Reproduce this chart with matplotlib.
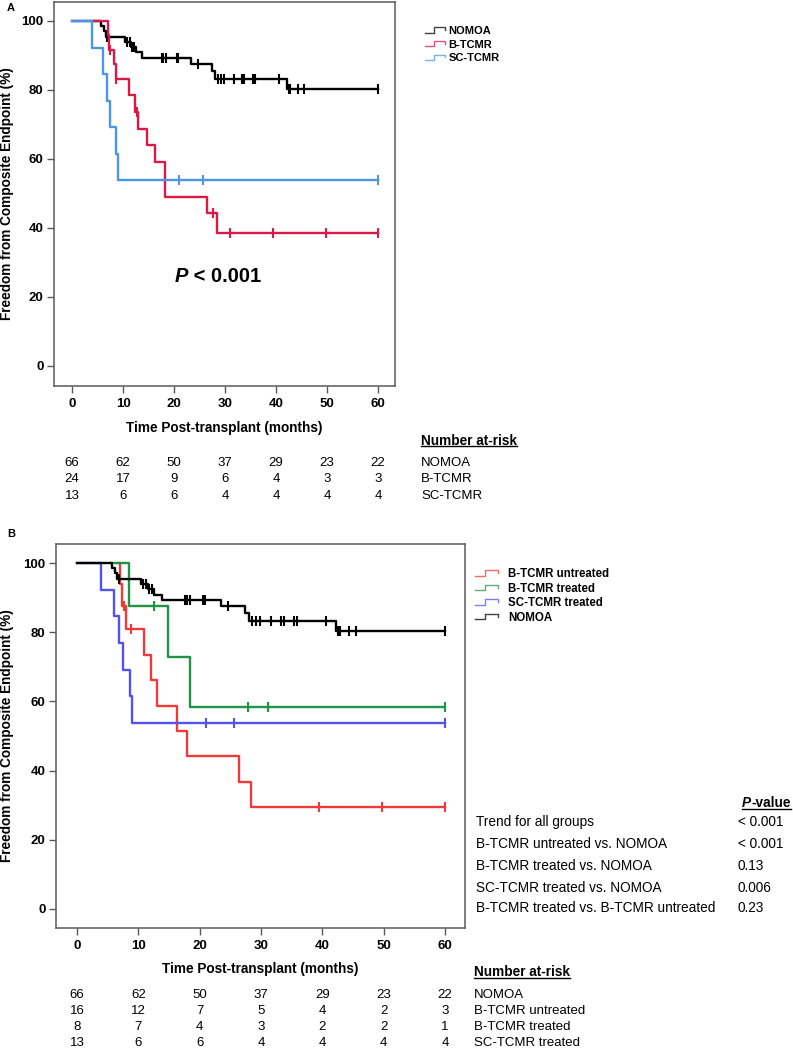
import numpy as np
import matplotlib
matplotlib.use('Agg')
import matplotlib.pyplot as plt
import matplotlib.transforms as mtransforms
from matplotlib.lines import Line2D
from matplotlib.legend_handler import HandlerBase

plt.rcParams['font.family'] = ['Liberation Sans', 'DejaVu Sans']

# ---- data (months, % event-free) ----
nomoa_t = [5.7, 6.2, 6.6, 10.4, 11.6, 12.6, 13.8, 23.4, 27.4, 28.1, 42.2]
nomoa_s = [98.5, 97.0, 95.5, 93.9, 92.4, 90.9, 89.4, 87.5, 85.5, 83.3, 80.3]
nomoa_c = [6.9, 10.8, 11.3, 11.8, 12.2, 17.6, 17.9, 18.5, 20.5, 20.8, 24.7,
           28.6, 29.2, 29.8, 31.7, 33.3, 33.7, 35.4, 35.8, 40.6, 42.5, 42.8,
           44.4, 45.5, 60.0]

btcmr_t = [7.1, 7.3, 8.2, 8.6, 11.1, 12.4, 13.0, 14.7, 16.3, 18.3, 26.4, 28.4]
btcmr_s = [95.8, 91.7, 87.5, 83.3, 78.4, 73.6, 68.8, 64.0, 59.0, 49.0, 44.2, 38.6]
btcmr_c = [7.5, 8.7, 12.7, 27.7, 31.0, 39.5, 49.8, 60.0]

sctcmr_t = [3.9, 6.0, 6.8, 7.5, 8.6, 9.0]
sctcmr_s = [92.3, 84.6, 76.9, 69.2, 61.5, 53.8]
sctcmr_c = [21.0, 25.6, 60.0]

untr_t = [6.95, 7.35, 8.0, 11.0, 12.1, 13.0, 16.3, 17.9, 26.4, 28.3]
untr_s = [93.8, 87.5, 80.8, 73.5, 66.2, 58.8, 51.5, 44.1, 36.7, 29.4]
untr_c = [7.7, 8.85, 39.5, 49.7, 60.0]

trt_t = [8.4, 14.8, 18.5]
trt_s = [87.5, 72.9, 58.3]
trt_c = [12.6, 27.9, 31.1, 60.0]

risk_times = [0, 10, 20, 30, 40, 50, 60]
names_A = ['NOMOA', 'B-TCMR', 'SC-TCMR']
risk_A = [[66, 62, 50, 37, 29, 23, 22],
          [24, 17, 9, 6, 4, 3, 3],
          [13, 6, 6, 4, 4, 4, 4]]
names_B = ['NOMOA', 'B-TCMR untreated', 'B-TCMR treated', 'SC-TCMR treated']
risk_B = [[66, 62, 50, 37, 29, 23, 22],
          [16, 12, 7, 5, 4, 2, 3],
          [8, 7, 4, 3, 2, 2, 1],
          [13, 6, 6, 4, 4, 4, 4]]

comparisons = ['Trend for all groups', 'B-TCMR untreated vs. NOMOA',
               'B-TCMR treated vs. NOMOA', 'SC-TCMR treated vs. NOMOA',
               'B-TCMR treated vs. B-TCMR untreated']
pvals = ['< 0.001', '< 0.001', '0.13', '0.006', '0.23']

W, H = 793, 1050
fig = plt.figure(figsize=(W / 100, H / 100), dpi=100)


def px_box(l, t, r, b):
    return [l / W, 1 - b / H, (r - l) / W, (b - t) / H]


def fy(y):
    return 1 - y / H


class StepHandler(HandlerBase):
    def create_artists(self, legend, orig_handle, xdescent, ydescent,
                       width, height, fontsize, trans):
        x0 = -xdescent
        y0 = -ydescent
        xs = [x0, x0 + 0.45 * width, x0 + 0.45 * width, x0 + width, x0 + width]
        ys = [y0 + 0.15 * height, y0 + 0.15 * height, y0 + 0.85 * height,
              y0 + 0.85 * height, y0 + 0.5 * height]
        ln = Line2D(xs, ys, color=orig_handle.get_color(), lw=1.0,
                    alpha=0.75, transform=trans)
        return [ln]


def km(ax, start, t, s, cens, color, label):
    x = [start] + t + [60]
    y = [100] + s + [s[-1]]
    line, = ax.step(x, y, where='post', color=color, lw=1.7, label=label)
    levels = [100] + s
    ys = [levels[np.searchsorted(t, c, side='right')] for c in cens]
    ax.plot(cens, ys, ls='none', marker='|', ms=7, mew=1.5, color=color)
    return line


def style(ax, xlim, ylim):
    ax.set_xlim(*xlim)
    ax.set_ylim(*ylim)
    ax.set_xticks(risk_times)
    ax.set_yticks([0, 20, 40, 60, 80, 100])
    for sp in ax.spines.values():
        sp.set_color('#5a5a5a')
        sp.set_linewidth(1.1)
    ax.tick_params(direction='out', length=5, width=1, color='#5a5a5a',
                   labelsize=9.5, pad=2.5)
    ax.tick_params(axis='x', pad=3.5)
    for lab in ax.get_xticklabels() + ax.get_yticklabels():
        lab.set_fontweight('bold')
    ax.set_xlabel('Time Post-transplant (months)', fontweight='bold', fontsize=9.8)
    ax.set_ylabel('Freedom from Composite Endpoint (%)', fontweight='bold',
                  fontsize=9.8)


def risk_table(ax, rows_y, counts):
    tr = mtransforms.blended_transform_factory(ax.transData, fig.transFigure)
    for y, row in zip(rows_y, counts):
        for xt, n in zip(risk_times, row):
            ax.text(xt, fy(y), str(n), transform=tr, ha='center', va='center',
                    fontsize=9.5)


underlines = []

# ---------------- panel A ----------------
axA = fig.add_axes(px_box(54, 2, 395, 386))
lA1 = km(axA, 0, nomoa_t, nomoa_s, nomoa_c, 'black', 'NOMOA')
lA2 = km(axA, 4.2, btcmr_t, btcmr_s, btcmr_c, '#dc1846', 'B-TCMR')
lA3 = km(axA, 0, sctcmr_t, sctcmr_s, sctcmr_c, '#4d96e6', 'SC-TCMR')
style(axA, (-3.53, 63.33), (-5.8, 105.5))
axA.yaxis.set_label_coords(-0.117, 0.5)
axA.xaxis.set_label_coords(0.5, -0.09)
tP = axA.text(20.2, 25.8, 'P', fontsize=14.5, fontweight='bold',
              fontstyle='italic', ha='left', va='center')
axA.annotate(' < 0.001', xy=(1, 0), xycoords=tP, va='bottom', ha='left',
             fontsize=14.5, fontweight='bold')
fig.text(7 / W, fy(8), 'A', fontsize=8, fontweight='bold', va='center')

fig.legend(handles=[lA1, lA2, lA3], labels=names_A,
           handler_map={Line2D: StepHandler()}, loc='upper left',
           bbox_to_anchor=(425 / W, fy(26)), frameon=False, borderpad=0,
           borderaxespad=0, handlelength=1.8, handletextpad=0.3,
           labelspacing=0.33, prop=dict(weight='bold', size=8))

risk_table(axA, [463, 479.5, 496], risk_A)
hA = fig.text(421 / W, fy(441), 'Number at-risk', fontsize=9.8,
              fontweight='bold', va='center')
underlines.append([hA])
for y, nm in zip([463, 479.5, 496], names_A):
    fig.text(421 / W, fy(y), nm, fontsize=9.5, va='center')

# ---------------- panel B ----------------
axB = fig.add_axes(px_box(56, 544, 465, 928))
lB1 = km(axB, 6.8, untr_t, untr_s, untr_c, '#f03a3a', 'B-TCMR untreated')
lB2 = km(axB, 5.5, trt_t, trt_s, trt_c, '#1f9444', 'B-TCMR treated')
lB3 = km(axB, 0, sctcmr_t, sctcmr_s, sctcmr_c, '#5252ec', 'SC-TCMR treated')
lB4 = km(axB, 0, nomoa_t, nomoa_s, nomoa_c, 'black', 'NOMOA')
style(axB, (-3.42, 63.26), (-5.5, 105.5))
axB.yaxis.set_label_coords(-0.103, 0.5)
axB.xaxis.set_label_coords(0.5, -0.088)
fig.text(7 / W, fy(534), 'B', fontsize=8, fontweight='bold', va='center')

fig.legend(handles=[lB1, lB2, lB3, lB4],
           labels=['B-TCMR untreated', 'B-TCMR treated', 'SC-TCMR treated', 'NOMOA'],
           handler_map={Line2D: StepHandler()}, loc='upper left',
           bbox_to_anchor=(475 / W, fy(568)), frameon=False, borderpad=0,
           borderaxespad=0, handlelength=2.0, handletextpad=0.9,
           labelspacing=0.22, prop=dict(weight='bold', size=8.3))

# p-value table
tPv = fig.text(742 / W, fy(803), 'P', fontsize=9.8, fontweight='bold',
               fontstyle='italic', va='center')
tPv2 = axB.annotate('-value', xy=(1, 0), xycoords=tPv, va='bottom', ha='left',
                    fontsize=9.8, fontweight='bold', annotation_clip=False)
underlines.append([tPv, tPv2])
for y, c, p in zip([822, 844, 866, 887.5, 908], comparisons, pvals):
    fig.text(476 / W, fy(y), c, fontsize=9.8, va='center')
    fig.text(738 / W, fy(y), p, fontsize=9.8, va='center')

risk_table(axB, [995, 1011, 1027, 1043], risk_B)
hB = fig.text(474 / W, fy(972), 'Number at-risk', fontsize=9.8,
              fontweight='bold', va='center')
underlines.append([hB])
for y, nm in zip([995, 1011, 1027, 1043], names_B):
    fig.text(474 / W, fy(y), nm, fontsize=9.5, va='center')

# underline the headers
fig.canvas.draw()
inv = fig.transFigure.inverted()
for group in underlines:
    bb = mtransforms.Bbox.union([t.get_window_extent() for t in group])
    (x0, y0), (x1, _) = inv.transform([(bb.x0, bb.y0 + 1.5), (bb.x1, bb.y0 + 1.5)])
    fig.add_artist(Line2D([x0, x1], [y0, y0], color='black', lw=1.0))

fig.savefig('out.png', dpi=100)
